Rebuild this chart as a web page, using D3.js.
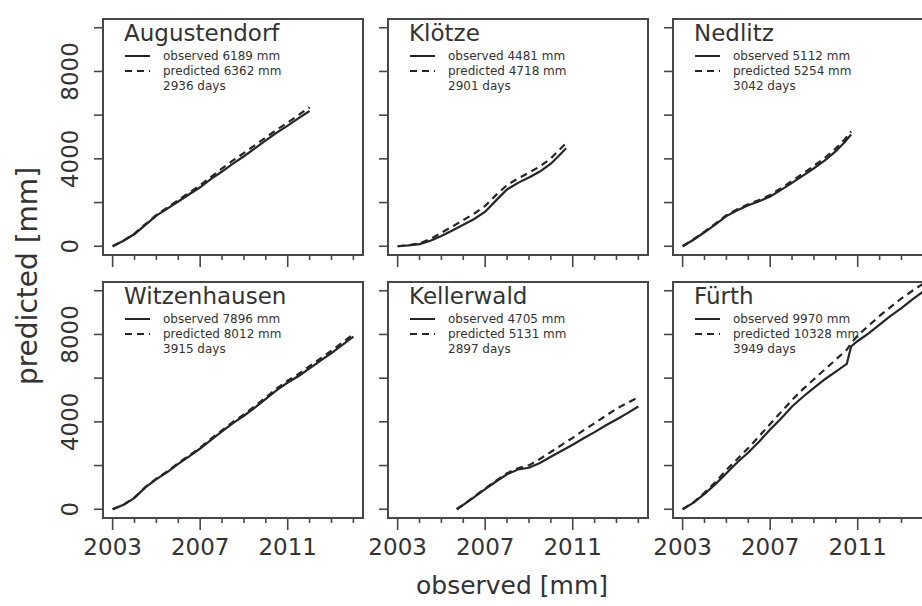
<!DOCTYPE html>
<html>
<head>
<meta charset="utf-8">
<script src="https://cdn.jsdelivr.net/npm/d3@7"></script>
<style>
  body { margin: 0; background: #fff; }
  text { font-family: "DejaVu Sans", sans-serif; fill: #333; }
</style>
</head>
<body>
<svg id="chart" width="922" height="606"></svg>
<script>
// Stations, in panel order (row by row)
const stations = ["Augustendorf", "Klötze", "Nedlitz", "Witzenhausen", "Kellerwald", "Fürth"];
const observedTotals = [6189, 4481, 5112, 7896, 4705, 9970];
const predictedTotals = [6362, 4718, 5254, 8012, 5131, 10328];
const dayCounts = [2936, 2901, 3042, 3915, 2897, 3949];

// Cumulative sums (mm) against time (decimal year)
const augYears = [2003.0, 2003.5, 2004.0, 2004.5, 2005.0, 2005.5, 2006.0, 2006.5, 2007.0, 2007.5, 2008.0, 2008.5, 2009.0, 2009.5, 2010.0, 2010.5, 2011.0, 2011.5, 2012.0];
const augObs   = [0, 250, 560, 980, 1400, 1720, 2050, 2380, 2700, 3080, 3420, 3780, 4120, 4480, 4850, 5200, 5520, 5860, 6189];
const augPred  = [0, 260, 580, 1010, 1440, 1770, 2110, 2450, 2790, 3180, 3560, 3930, 4270, 4620, 4980, 5330, 5660, 6010, 6362];

const kloYears = [2003.0, 2003.5, 2004.0, 2004.5, 2005.0, 2005.5, 2006.0, 2006.5, 2007.0, 2007.5, 2008.0, 2008.5, 2009.0, 2009.5, 2010.0, 2010.4, 2010.7];
const kloObs   = [0, 40, 100, 250, 470, 720, 980, 1250, 1580, 2100, 2600, 2900, 3150, 3420, 3780, 4180, 4481];
const kloPred  = [0, 50, 130, 330, 620, 900, 1200, 1500, 1850, 2350, 2800, 3100, 3370, 3650, 4020, 4420, 4718];

const nedYears = [2003.0, 2003.5, 2004.0, 2004.5, 2005.0, 2005.5, 2006.0, 2006.5, 2007.0, 2007.5, 2008.0, 2008.5, 2009.0, 2009.5, 2010.0, 2010.4, 2010.7];
const nedObs   = [0, 300, 640, 1000, 1380, 1650, 1880, 2060, 2280, 2580, 2900, 3230, 3570, 3930, 4350, 4760, 5112];
const nedPred  = [0, 320, 670, 1040, 1420, 1690, 1920, 2120, 2350, 2660, 2990, 3330, 3680, 4050, 4480, 4890, 5254];

const witYears = [2003.0, 2003.5, 2004.0, 2004.5, 2005.0, 2005.5, 2006.0, 2006.5, 2007.0, 2007.5, 2008.0, 2008.5, 2009.0, 2009.5, 2010.0, 2010.5, 2011.0, 2011.5, 2012.0, 2012.5, 2013.0, 2013.5, 2014.0];
const witObs   = [0, 200, 520, 1000, 1380, 1700, 2080, 2420, 2780, 3180, 3560, 3940, 4280, 4650, 5050, 5450, 5800, 6100, 6450, 6800, 7150, 7520, 7896];
const witPred  = [0, 210, 540, 1020, 1400, 1730, 2110, 2460, 2820, 3230, 3610, 4000, 4340, 4720, 5120, 5530, 5880, 6190, 6550, 6900, 7260, 7630, 8012];

const kelYears = [2005.7, 2006.0, 2006.5, 2007.0, 2007.5, 2008.0, 2008.5, 2009.0, 2009.5, 2010.0, 2010.5, 2011.0, 2011.5, 2012.0, 2012.5, 2013.0, 2013.5, 2014.0];
const kelObs   = [0, 200, 560, 920, 1270, 1600, 1820, 1900, 2120, 2400, 2680, 2950, 3250, 3530, 3830, 4110, 4400, 4705];
const kelPred  = [0, 210, 580, 950, 1310, 1650, 1880, 2010, 2300, 2620, 2950, 3270, 3620, 3940, 4270, 4600, 4870, 5131];

const fueYears = [2003.0, 2003.5, 2004.0, 2004.5, 2005.0, 2005.5, 2006.0, 2006.5, 2007.0, 2007.5, 2008.0, 2008.5, 2009.0, 2009.5, 2010.0, 2010.5, 2010.7, 2011.0, 2011.5, 2012.0, 2012.5, 2013.0, 2013.5, 2014.0];
const fueObs   = [0, 300, 700, 1150, 1650, 2150, 2600, 3100, 3650, 4150, 4700, 5150, 5550, 5950, 6300, 6650, 7450, 7700, 8050, 8450, 8850, 9200, 9600, 9970];
const fuePred  = [0, 320, 760, 1250, 1800, 2300, 2800, 3350, 3900, 4450, 5000, 5500, 5950, 6400, 6850, 7300, 7600, 7950, 8400, 8850, 9250, 9650, 10000, 10328];

const seriesYears = [augYears, kloYears, nedYears, witYears, kelYears, fueYears];
const seriesObs = [augObs, kloObs, nedObs, witObs, kelObs, fueObs];
const seriesPred = [augPred, kloPred, nedPred, witPred, kelPred, fuePred];

const yTicks = [0, 2000, 4000, 6000, 8000, 10000];
const yTickLabels = [0, 4000, 8000];
const xTicks = [2003, 2004, 2005, 2006, 2007, 2008, 2009, 2010, 2011, 2012, 2013, 2014];
const xTickLabels = [2003, 2007, 2011];

// Panel grid
const colLeft = [103, 388, 673];
const rowTop = [19, 282];
const panelW = 260, panelH = 236;
const ink = "#262626", frame = "#474747";

const svg = d3.select("#chart");

const x = d3.scaleLinear().domain([2002.56, 2014.44]).range([0, panelW]);
const y = d3.scaleLinear().domain([-400, 10400]).range([panelH, 0]);

const defs = svg.append("defs");

stations.forEach((name, i) => {
  const row = Math.floor(i / 3), col = i % 3;
  const g = svg.append("g").attr("transform", `translate(${colLeft[col]},${rowTop[row]})`);

  defs.append("clipPath").attr("id", "clip" + i)
    .append("rect").attr("width", panelW).attr("height", panelH);

  // y ticks
  g.selectAll(".yt").data(yTicks).join("line")
    .attr("x1", -9).attr("x2", 0)
    .attr("y1", d => y(d)).attr("y2", d => y(d))
    .attr("stroke", frame).attr("stroke-width", 1.6);
  if (col === 0) {
    g.selectAll(".yl").data(yTickLabels).join("text")
      .attr("transform", d => `translate(-25,${y(d)}) rotate(-90)`)
      .attr("text-anchor", "middle")
      .attr("font-size", 23)
      .text(d => d);
  }

  // x ticks: long on labelled years, short elsewhere
  g.selectAll(".xt").data(xTicks).join("line")
    .attr("x1", d => x(d)).attr("x2", d => x(d))
    .attr("y1", panelH)
    .attr("y2", d => panelH + (xTickLabels.includes(d) ? 12 : 5))
    .attr("stroke", frame).attr("stroke-width", 1.6);
  if (row === 1) {
    g.selectAll(".xl").data(xTickLabels).join("text")
      .attr("x", d => x(d)).attr("y", panelH + 37)
      .attr("text-anchor", "middle")
      .attr("font-size", 23)
      .text(d => d);
  }

  // frame
  g.append("rect").attr("width", panelW).attr("height", panelH)
    .attr("fill", "none").attr("stroke", frame).attr("stroke-width", 2);

  // curves
  const yrs = seriesYears[i];
  const line = d3.line().x(d => x(d[0])).y(d => y(d[1]));
  const plot = g.append("g").attr("clip-path", `url(#clip${i})`);
  plot.append("path")
    .attr("d", line(yrs.map((t, k) => [t, seriesPred[i][k]])))
    .attr("fill", "none").attr("stroke", ink).attr("stroke-width", 2.2)
    .attr("stroke-dasharray", "7,5");
  plot.append("path")
    .attr("d", line(yrs.map((t, k) => [t, seriesObs[i][k]])))
    .attr("fill", "none").attr("stroke", ink).attr("stroke-width", 2.2);

  // title and legend
  g.append("text").attr("x", 21).attr("y", 22)
    .attr("font-size", 23).text(name);
  const leg = [
    { dash: null, label: `observed ${observedTotals[i]} mm` },
    { dash: "7,5", label: `predicted ${predictedTotals[i]} mm` },
    { dash: undefined, label: `${dayCounts[i]} days` }
  ];
  leg.forEach((e, k) => {
    const cy = 37 + k * 15;
    if (e.dash !== undefined) {
      g.append("line").attr("x1", 22).attr("x2", 47).attr("y1", cy).attr("y2", cy)
        .attr("stroke", ink).attr("stroke-width", 2)
        .attr("stroke-dasharray", e.dash);
    }
    g.append("text").attr("x", 60).attr("y", cy + 4)
      .attr("font-size", 12).attr("fill", "#666").text(e.label);
  });
});

// axis titles
svg.append("text")
  .attr("transform", "translate(37,276) rotate(-90)")
  .attr("text-anchor", "middle").attr("font-size", 28)
  .text("predicted [mm]");
svg.append("text")
  .attr("x", 512).attr("y", 594)
  .attr("text-anchor", "middle").attr("font-size", 25)
  .text("observed [mm]");
</script>
</body>
</html>
